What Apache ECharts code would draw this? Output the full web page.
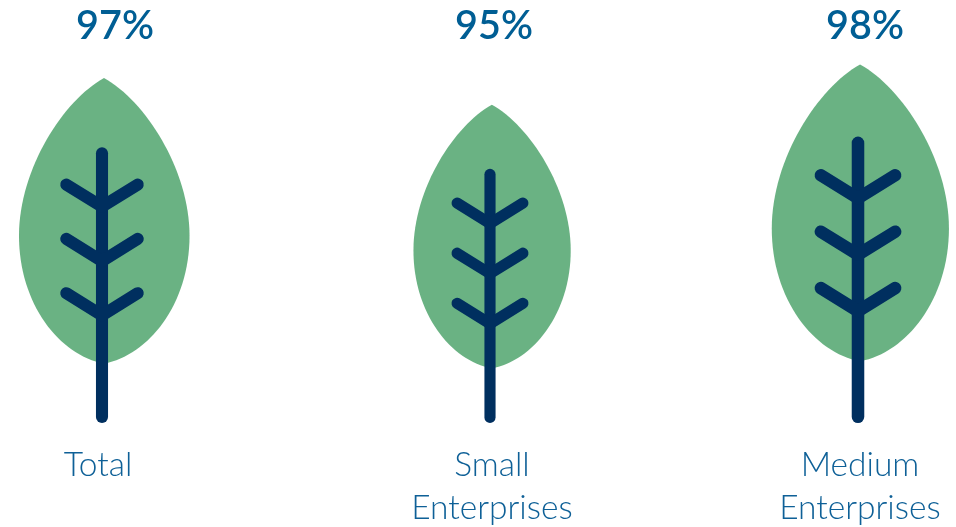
<!DOCTYPE html>
<html>
<head>
<meta charset="utf-8">
<style>html,body{margin:0;padding:0;background:#fff}#chart{width:956px;height:527px}</style>
<script src="https://cdn.jsdelivr.net/npm/echarts@6/dist/echarts.min.js"></script>
</head>
<body>
<div id="chart"></div>
<script>
// Share of enterprises by size
const categories = ['Total', 'Small\nEnterprises', 'Medium\nEnterprises'];
const shares = [97, 95, 98];

// Column layout in pixels: label centre, tree offset from centre, percentage offset from centre
const columns = [
  { centre: 98, treeShift: 4, valueShift: 17 },
  { centre: 492, treeShift: -2, valueShift: 2 },
  { centre: 860, treeShift: -2, valueShift: 5 }
];
const COLUMN_WIDTH = 180;
const BASE_Y = 423;

// Tree artwork, drawn at a reference height of 343 with the stem on x = 0 and the tip on y = 0
const REF_HEIGHT = 343;
const LEAF_PATH = 'M2,0 C-38,22 -82.5,90 -82.5,157 C-82.5,225 -42,276 2,284 C46,276 87,225 87,157 C87,90 42,22 2,0 Z';
const LEAF_BOX = { x: -82.5, y: 0, width: 169.5, height: 284 };
const STEM_TOP = 75;
const BRANCHES = [[106, 128], [160, 182], [214, 236]];

function renderTree(params, api) {
  const col = columns[params.seriesIndex];
  const top = api.coord([0, api.value(1)]);
  const s = (BASE_Y - top[1]) / REF_HEIGHT;
  const cx = top[0] + col.treeShift;
  const px = (x, y) => [cx + x * s, top[1] + y * s];
  const stroke = { stroke: '#002f5f', lineWidth: 12 * s, lineCap: 'round', lineJoin: 'round', fill: null };
  const children = [{
    type: 'path',
    shape: {
      pathData: LEAF_PATH,
      x: cx + LEAF_BOX.x * s,
      y: top[1] + LEAF_BOX.y * s,
      width: LEAF_BOX.width * s,
      height: LEAF_BOX.height * s
    },
    style: { fill: '#6ab283' }
  }, {
    type: 'polyline',
    shape: { points: [px(0, STEM_TOP), px(0, REF_HEIGHT - 6)] },
    style: stroke
  }];
  BRANCHES.forEach(([end, joint]) => {
    children.push({
      type: 'polyline',
      shape: { points: [px(-35.5, end), px(0, joint), px(35.5, end)] },
      style: stroke
    });
  });
  children.push({
    type: 'text',
    style: {
      text: api.value(1) + '%',
      x: top[0] + col.valueShift,
      y: 26,
      align: 'center',
      verticalAlign: 'middle',
      fill: '#005e94',
      font: '600 39.5px Lato'
    }
  });
  return { type: 'group', children };
}

const chart = echarts.init(document.getElementById('chart'), null, { renderer: 'canvas' });
chart.setOption({
  animation: false,
  backgroundColor: '#ffffff',
  grid: columns.map(c => ({
    left: c.centre - COLUMN_WIDTH / 2,
    width: COLUMN_WIDTH,
    top: 0,
    height: BASE_Y,
    outerBoundsMode: 'none'
  })),
  xAxis: categories.map((name, i) => ({
    type: 'category',
    gridIndex: i,
    data: [name],
    axisLine: { show: false },
    axisTick: { show: false },
    axisLabel: {
      interval: 0,
      margin: 21,
      fontFamily: 'Lato',
      fontWeight: 300,
      fontSize: 33.5,
      lineHeight: 43,
      color: '#0e6097'
    }
  })),
  yAxis: categories.map((name, i) => ({
    type: 'value',
    gridIndex: i,
    min: 71.3,
    max: 102.8,
    show: false
  })),
  series: shares.map((value, i) => ({
    type: 'custom',
    xAxisIndex: i,
    yAxisIndex: i,
    clip: false,
    encode: { x: 0, y: 1 },
    data: [[0, value]],
    renderItem: renderTree
  }))
});
</script>
</body>
</html>
